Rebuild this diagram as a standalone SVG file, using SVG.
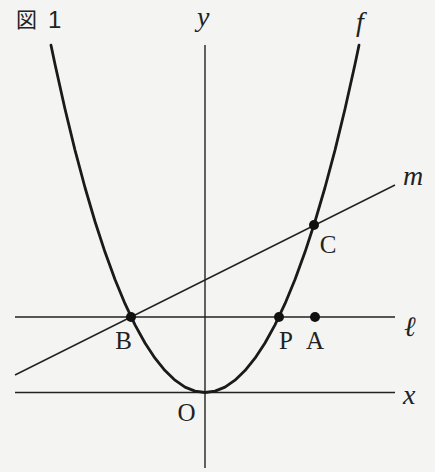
<svg xmlns="http://www.w3.org/2000/svg" width="435" height="472" viewBox="0 0 435 472">
<style>
.ax{stroke:#222;stroke-width:1.4;fill:none}
.cv{stroke:#1a1a1a;stroke-width:2.8;fill:none;stroke-linejoin:round;stroke-linecap:round}
.dot{fill:#111}
.it{font-family:"Liberation Serif","DejaVu Serif",serif;font-style:italic;font-size:28px;fill:#222}
.lb{font-family:"Liberation Serif","DejaVu Serif",serif;font-size:25px;fill:#222;text-anchor:middle}
</style>
<rect width="435" height="472" fill="#f4f4f2"/>
<g id="title">
<text x="16" y="26.5" style="font-family:'Noto Sans CJK JP','Noto Sans CJK SC',sans-serif;font-size:21px;fill:#222">図</text>
<text x="48" y="28" style="font-family:'Liberation Sans',sans-serif;font-size:24px;fill:#222">1</text>
</g>
<g id="connectors">
<line class="ax" x1="205" y1="45" x2="205" y2="468"/>
<line class="ax" x1="15" y1="392.5" x2="395" y2="392.5"/>
<line class="ax" x1="15" y1="317" x2="395" y2="317"/>
<line class="ax" x1="15" y1="375" x2="395" y2="185"/>
</g>
<g id="curve-f">
<polyline class="cv" points="51,45.2 55,64.2 65,109 75,150.1 85,187.5 95,221.5 105,252.1 115,279.5 125,303.7 135,324.8 145,343 155,358.2 165,370.6 175,380.2 185,387.1 195,391.1 205,392.5 215,391.1 225,387.1 235,380.2 245,370.6 255,358.2 265,343 275,324.8 285,303.7 295,279.5 305,252.1 315,221.5 325,187.5 335,150.1 345,109 355,64.2 359,45.2"/>
</g>
<g id="axis-labels">
<text class="it" x="197" y="26">y</text>
<text class="it" x="356" y="31">f</text>
<text class="it" x="403" y="185">m</text>
<text class="it" x="404" y="336">ℓ</text>
<text class="it" x="403" y="404">x</text>
</g>
<g id="node-B"><circle class="dot" cx="131" cy="317" r="5"/><text class="lb" x="123.5" y="349">B</text></g>
<g id="node-P"><circle class="dot" cx="279" cy="317" r="5"/><text class="lb" x="286" y="349">P</text></g>
<g id="node-A"><circle class="dot" cx="315" cy="317" r="5"/><text class="lb" x="315" y="349">A</text></g>
<g id="node-C"><circle class="dot" cx="314" cy="225" r="5"/><text class="lb" x="328" y="253">C</text></g>
<g id="node-O"><text class="lb" x="186.5" y="421">O</text></g>
</svg>
